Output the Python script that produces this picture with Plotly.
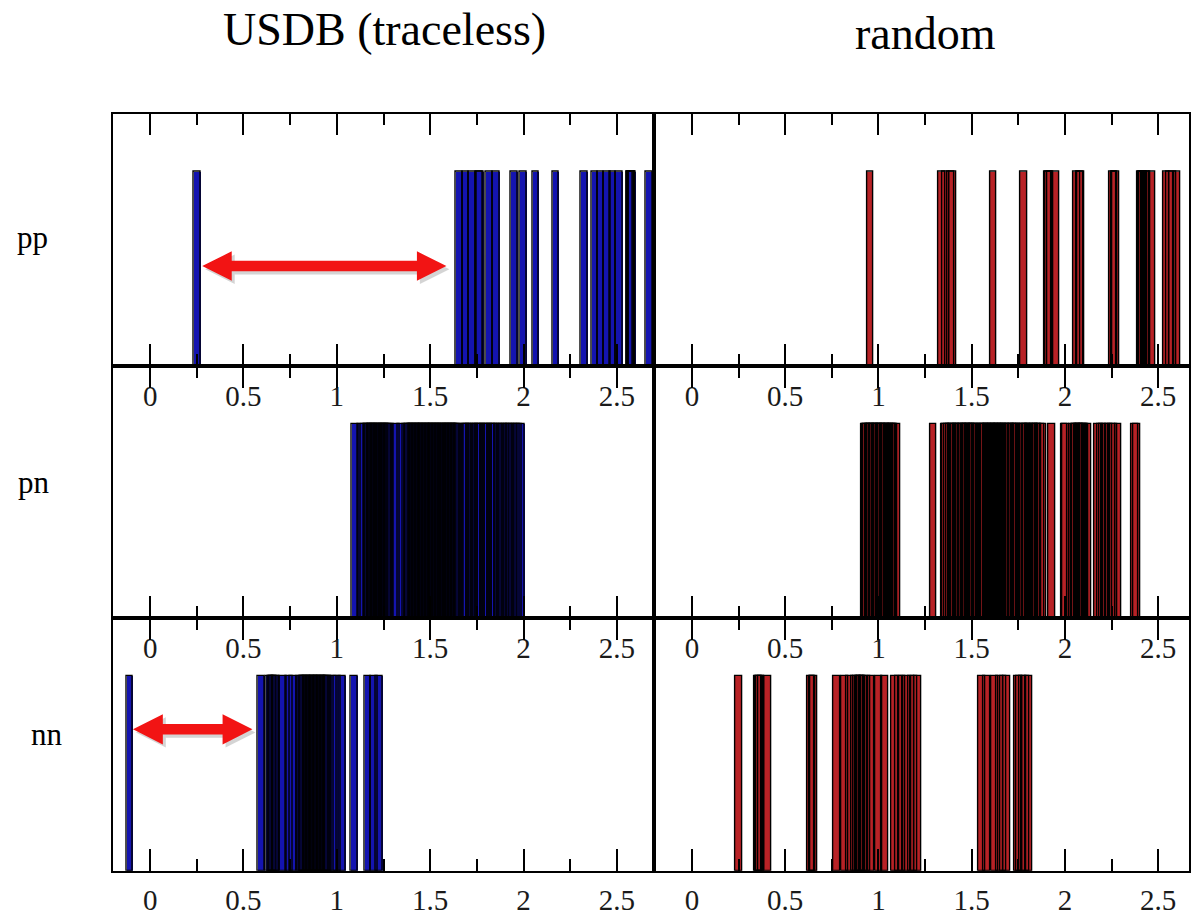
import plotly.graph_objects as go

# Level energies per panel (one bar per level), read in axis units
pp_usdb = [0.254,
           1.656, 1.691, 1.726, 1.761, 1.769, 1.816, 1.852,
           1.949, 1.998, 2.066, 2.173, 2.324,
           2.382, 2.414, 2.448, 2.478, 2.512,
           2.569, 2.572, 2.575, 2.578, 2.580, 2.583,
           2.674]

pp_random = [0.956,
             1.339, 1.362, 1.387, 1.400,
             1.616, 1.778,
             1.910, 1.915, 1.921, 1.953,
             2.065, 2.080, 2.086,
             2.258, 2.265, 2.274,
             2.406, 2.412, 2.419, 2.425, 2.432, 2.438, 2.468,
             2.543, 2.561, 2.580, 2.602]

pn_usdb = [1.100, 1.130, 1.145,
           1.160, 1.167, 1.176, 1.183, 1.191, 1.198, 1.207, 1.214, 1.222,
           1.230, 1.237, 1.245, 1.253, 1.261, 1.268, 1.276, 1.285,
           1.318, 1.345,
           1.372, 1.380, 1.387, 1.395, 1.403, 1.410, 1.418, 1.426, 1.433,
           1.441, 1.449, 1.457, 1.464, 1.472, 1.480, 1.487, 1.495, 1.503,
           1.511, 1.518, 1.526, 1.534, 1.541, 1.549, 1.557, 1.565, 1.572,
           1.580, 1.588, 1.595, 1.603, 1.611, 1.619, 1.626, 1.634, 1.642,
           1.652,
           1.680, 1.690, 1.700, 1.712, 1.725, 1.738, 1.750, 1.762, 1.775,
           1.790, 1.800, 1.812, 1.825, 1.838, 1.850, 1.865, 1.878, 1.890,
           1.905, 1.918, 1.930, 1.945, 1.960, 1.972, 1.986]

pn_random = [0.925, 0.932, 0.939, 0.947, 0.954, 0.961, 0.968, 0.976, 0.983,
             0.990, 0.997, 1.005, 1.012, 1.019, 1.026, 1.034, 1.041, 1.048,
             1.056, 1.063, 1.070, 1.077, 1.085, 1.100,
             1.295,
             1.356, 1.362, 1.370, 1.384, 1.392, 1.398, 1.410, 1.418, 1.425,
             1.437, 1.446, 1.452, 1.460, 1.468, 1.475, 1.483, 1.491, 1.498,
             1.506, 1.513, 1.521, 1.530, 1.548, 1.556, 1.563, 1.571, 1.578,
             1.586, 1.594, 1.601, 1.609, 1.616, 1.624, 1.632, 1.639, 1.647,
             1.655, 1.662, 1.670, 1.678, 1.686, 1.697, 1.705, 1.712, 1.720,
             1.728, 1.735, 1.743, 1.755, 1.768, 1.780, 1.788, 1.795, 1.803,
             1.812, 1.826, 1.834, 1.841, 1.849, 1.858, 1.870, 1.884,
             1.931,
             1.997, 2.004,
             2.044, 2.051, 2.058, 2.066, 2.073, 2.080, 2.088, 2.095, 2.102,
             2.110, 2.125,
             2.178, 2.190, 2.204, 2.218, 2.235, 2.250, 2.262, 2.286,
             2.374, 2.385]

nn_usdb = [-0.109, 0.595,
           0.639, 0.646, 0.654, 0.661, 0.669, 0.676, 0.712, 0.746, 0.765,
           0.805, 0.812, 0.820, 0.827, 0.835, 0.842, 0.850, 0.857, 0.865,
           0.872, 0.880, 0.887, 0.895, 0.902, 0.910, 0.917, 0.925, 0.932,
           0.940, 0.947, 0.953, 0.979, 1.003, 1.027,
           1.092,
           1.165, 1.199, 1.228]

nn_random = [0.253,
             0.352, 0.358, 0.364, 0.372, 0.407,
             0.639, 0.646, 0.653,
             0.776,
             0.821, 0.848, 0.870, 0.885, 0.892, 0.899, 0.906, 0.913, 0.920,
             0.937, 0.962,
             1.001, 1.036,
             1.089, 1.110, 1.128, 1.152, 1.176, 1.193, 1.210,
             1.553, 1.582,
             1.624, 1.651, 1.670, 1.689,
             1.749, 1.756, 1.776, 1.790, 1.808]

col_titles = ["USDB (traceless)", "random"]
row_labels = ["pp", "pn", "nn"]
tick_vals = [0, 0.5, 1, 1.5, 2, 2.5]
tick_text = ["0", "0.5", "1", "1.5", "2", "2.5"]

panels = [[pp_usdb, pp_random], [pn_usdb, pn_random], [nn_usdb, nn_random]]

W, H = 1191, 916
BAR_W = 0.036
BAR_H = 1.0
FILL = ["#1414b0", "#b82226"]
SERIF = "Liberation Serif"

# panel frames in pixels
col_px = [(112.9, 655.4), (655.4, 1191.0)]
row_px = [(114.7, 369.3), (369.3, 623.5), (623.5, 878.3)]
x_ranges = [[-0.2005, 2.7005], [-0.2018, 2.6654]]

fig = go.Figure()
layout = {}

for r in range(3):
    for c in range(2):
        i = r * 2 + c + 1
        xa = "x" if i == 1 else f"x{i}"
        ya = "y" if i == 1 else f"y{i}"
        levels = panels[r][c]
        heights = [BAR_H for _ in levels]
        # filled bars first, then every outline on top
        fig.add_trace(go.Bar(x=levels, y=heights, width=BAR_W, xaxis=xa, yaxis=ya,
                             marker=dict(color=FILL[c], line=dict(width=0)),
                             hoverinfo="skip", showlegend=False))
        fig.add_trace(go.Bar(x=levels, y=heights, width=BAR_W, xaxis=xa, yaxis=ya,
                             marker=dict(color="rgba(0,0,0,0)",
                                         line=dict(color="black", width=1.4)),
                             hoverinfo="skip", showlegend=False))
        x0, x1 = col_px[c]
        y0, y1 = row_px[r]
        xkey = "xaxis" if i == 1 else f"xaxis{i}"
        ykey = "yaxis" if i == 1 else f"yaxis{i}"
        layout[xkey] = dict(
            domain=[x0 / W, x1 / W], anchor=ya, range=x_ranges[c],
            showgrid=False, zeroline=False, showline=True, linecolor="black",
            linewidth=1.5, mirror="ticks", ticks="inside", ticklen=22,
            tickwidth=1.5, tickcolor="black", tickvals=tick_vals,
            ticktext=tick_text, ticklabelstandoff=3,
            tickfont=dict(family=SERIF, size=29, color="#1a1a1a"),
            minor=dict(dtick=0.25, tick0=0, ticks="inside", ticklen=12,
                       tickwidth=1.5, tickcolor="black", showgrid=False),
            fixedrange=True)
        layout[ykey] = dict(
            domain=[1 - y1 / H, 1 - y0 / H], anchor=xa, range=[0, 1.3],
            showgrid=False, zeroline=False, showline=True, linecolor="black",
            linewidth=1.5, mirror=True, ticks="", showticklabels=False,
            fixedrange=True)

# double-headed red arrows marking the gaps in the USDB spectra
def arrow_path(x0, x1, yc, hl, hh, st):
    pts = [(x0, yc), (x0 + hl, yc + hh), (x0 + hl, yc + st), (x1 - hl, yc + st),
           (x1 - hl, yc + hh), (x1, yc), (x1 - hl, yc - hh), (x1 - hl, yc - st),
           (x0 + hl, yc - st), (x0 + hl, yc - hh)]
    return "M" + " L".join(f"{px:.4f},{py:.4f}" for px, py in pts) + " Z"

arrows = [
    dict(xref="x", yref="y", x0=0.279, x1=1.587, yc=0.515, hl=0.158, hh=0.076, st=0.027),
    dict(xref="x5", yref="y5", x0=-0.092, x1=0.548, yc=0.7275, hl=0.160, hh=0.078, st=0.027),
]
shapes = []
for a in arrows:
    shapes.append(dict(type="path", xref=a["xref"], yref=a["yref"],
                       path=arrow_path(a["x0"] + 0.016, a["x1"] + 0.016, a["yc"] - 0.016,
                                       a["hl"], a["hh"], a["st"]),
                       fillcolor="rgba(60,60,60,0.22)", line=dict(width=0), layer="above"))
    shapes.append(dict(type="path", xref=a["xref"], yref=a["yref"],
                       path=arrow_path(a["x0"], a["x1"], a["yc"], a["hl"], a["hh"], a["st"]),
                       fillcolor="#f21414", line=dict(width=0), layer="above"))

annotations = [
    dict(text=col_titles[0], x=385 / W, y=1 - 30 / H, xref="paper", yref="paper",
         showarrow=False, xanchor="center", yanchor="middle",
         font=dict(family=SERIF, size=46, color="black")),
    dict(text=col_titles[1], x=927 / W, y=1 - 34 / H, xref="paper", yref="paper",
         showarrow=False, xanchor="center", yanchor="middle",
         font=dict(family=SERIF, size=46, color="black")),
]
for lbl, (lx, ly) in zip(row_labels, [(33, 240), (34, 487), (47, 741)]):
    annotations.append(dict(text=lbl, x=lx / W, y=1 - ly / H, xref="paper", yref="paper",
                            showarrow=False, xanchor="center", yanchor="middle",
                            font=dict(family=SERIF, size=31, color="black")))

fig.update_layout(
    width=W, height=H, margin=dict(l=0, r=0, t=0, b=0),
    paper_bgcolor="white", plot_bgcolor="white",
    barmode="overlay", bargap=0, showlegend=False,
    shapes=shapes, annotations=annotations, **layout)

fig.write_html("out.html", config={"displayModeBar": False})
